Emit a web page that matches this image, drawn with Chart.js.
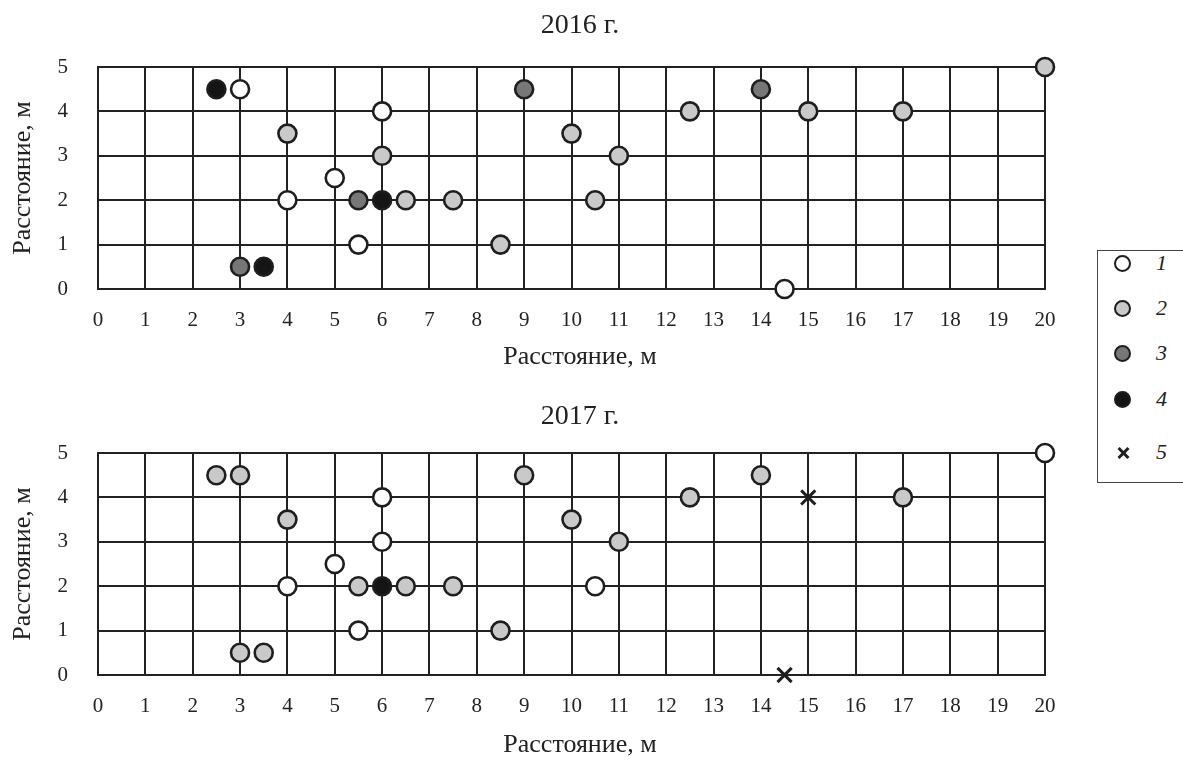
<!DOCTYPE html>
<html>
<head>
<meta charset="utf-8">
<script src="https://cdn.jsdelivr.net/npm/chart.js@4"></script>
<style>
  html, body { margin:0; padding:0; background:#fff; }
  body { width:1183px; height:764px; position:relative; overflow:hidden; font-family:"Liberation Serif", serif; }
  .wrap { position:absolute; left:0; width:1160px; }
  #legend { position:absolute; left:1097px; top:250px; width:100px; height:233px; border:1.5px solid #444; box-sizing:border-box; background:#fff; }
  .li { position:absolute; left:0; width:100%; height:20px; }
  .mk { position:absolute; left:16px; top:1px; width:17px; height:17px; border-radius:50%; box-sizing:border-box; border:2.6px solid #1e1e1e; }
  .lt { position:absolute; left:58px; top:-4px; font-style:italic; font-size:22px; color:#222; }
  .cross { position:absolute; left:17px; top:2px; width:16px; height:16px; font-size:0; }
  .cross:before, .cross:after { content:""; position:absolute; left:6.5px; top:1px; width:3px; height:14px; background:#1e1e1e; }
  .cross:before { transform:rotate(45deg); }
  .cross:after { transform:rotate(-45deg); }
</style>
</head>
<body>
<div class="wrap" style="top:0;height:375px;"><canvas id="c1"></canvas></div>
<div class="wrap" style="top:386px;height:378px;"><canvas id="c2"></canvas></div>
<div id="legend"></div>
<script>
// ---- data ----
const seriesNames = ['1', '2', '3', '4', '5'];
const xTicks = [0,1,2,3,4,5,6,7,8,9,10,11,12,13,14,15,16,17,18,19,20];
const yTicks = [0,1,2,3,4,5];

// 2016
const s2016_1 = [{x:3,y:4.5},{x:6,y:4},{x:5,y:2.5},{x:4,y:2},{x:5.5,y:1},{x:14.5,y:0}];
const s2016_2 = [{x:4,y:3.5},{x:6,y:3},{x:6.5,y:2},{x:7.5,y:2},{x:8.5,y:1},{x:10,y:3.5},{x:11,y:3},{x:10.5,y:2},{x:12.5,y:4},{x:15,y:4},{x:17,y:4},{x:20,y:5}];
const s2016_3 = [{x:9,y:4.5},{x:5.5,y:2},{x:3,y:0.5},{x:14,y:4.5}];
const s2016_4 = [{x:2.5,y:4.5},{x:6,y:2},{x:3.5,y:0.5}];
const s2016_5 = [];

// 2017
const s2017_1 = [{x:6,y:4},{x:6,y:3},{x:5,y:2.5},{x:4,y:2},{x:5.5,y:1},{x:10.5,y:2},{x:20,y:5}];
const s2017_2 = [{x:2.5,y:4.5},{x:3,y:4.5},{x:9,y:4.5},{x:4,y:3.5},{x:5.5,y:2},{x:6.5,y:2},{x:7.5,y:2},{x:8.5,y:1},{x:3,y:0.5},{x:3.5,y:0.5},{x:10,y:3.5},{x:11,y:3},{x:12.5,y:4},{x:14,y:4.5},{x:17,y:4}];
const s2017_3 = [];
const s2017_4 = [{x:6,y:2}];
const s2017_5 = [{x:15,y:4},{x:14.5,y:0}];

const titles = ['2016 г.', '2017 г.'];
const axisTitle = 'Расстояние, м';

// ---- styles ----
const fills = ['#ffffff', '#c9c9c9', '#777777', '#151515', '#1e1e1e'];
const INK = '#222222';
const FONT = '"Liberation Serif", "Times New Roman", serif';

function makeDatasets(arrs) {
  return arrs.map((d, i) => ({
    label: seriesNames[i],
    data: d,
    pointStyle: i === 4 ? 'crossRot' : 'circle',
    pointRadius: i === 4 ? 10 : 9,
    pointHoverRadius: i === 4 ? 10 : 9,
    backgroundColor: fills[i],
    borderColor: '#1e1e1e',
    pointBorderWidth: i === 4 ? 3 : 2.6,
    clip: false,
    showLine: false
  }));
}

function makeChart(id, title, arrs, cfg) {
  return new Chart(document.getElementById(id), {
    type: 'scatter',
    data: { datasets: makeDatasets(arrs) },
    options: {
      responsive: true,
      maintainAspectRatio: false,
      animation: false,
      layout: { padding: 0 },
      plugins: {
        legend: { display: false },
        tooltip: { enabled: false },
        title: {
          display: true, text: title, fullSize: true,
          color: '#222', font: { family: FONT, size: 28, weight: 'normal', lineHeight: 1.2 },
          padding: { top: cfg.tTop, bottom: 67 - cfg.tTop - 33.6 }
        },
        subtitle: {
          display: true, text: axisTitle, position: 'bottom', fullSize: true,
          color: '#222', font: { family: FONT, size: 26, weight: 'normal', lineHeight: 1.2 },
          padding: { top: 0, bottom: cfg.sBot }
        }
      },
      scales: {
        x: {
          type: 'linear', min: 0, max: 20,
          afterBuildTicks: s => { s.ticks = xTicks.map(v => ({ value: v })); },
          afterFit: s => { s.height = cfg.h - (31.2 + cfg.sBot) - 289; },
          ticks: { color: '#222', font: { family: FONT, size: 21 }, padding: 19, maxRotation: 0, autoSkip: false },
          grid: { color: INK, lineWidth: 2, drawTicks: false },
          border: { display: true, color: INK, width: 2 }
        },
        y: {
          type: 'linear', min: 0, max: 5,
          afterBuildTicks: s => { s.ticks = yTicks.map(v => ({ value: v })); },
          afterFit: s => { s.width = 98; },
          ticks: { color: '#222', font: { family: FONT, size: 21 }, padding: 30 },
          grid: { color: INK, lineWidth: 2, drawTicks: false },
          border: { display: true, color: INK, width: 2 },
          title: { display: true, text: axisTitle, color: '#222', font: { family: FONT, size: 26, lineHeight: 1.2 }, padding: { top: 7.4, bottom: 0 } }
        },
        yRight: {
          type: 'linear', position: 'right', min: 0, max: 5,
          afterFit: s => { s.width = 115; },
          ticks: { display: false },
          grid: { display: false, drawTicks: false },
          border: { display: false }
        }
      }
    }
  });
}

makeChart('c1', titles[0], [s2016_1, s2016_2, s2016_3, s2016_4, s2016_5], { tTop: 9, sBot: 2, h: 375 });
makeChart('c2', titles[1], [s2017_1, s2017_2, s2017_3, s2017_4, s2017_5], { tTop: 14, sBot: 3.4, h: 378 });

// ---- legend ----
const legendY = [13, 58, 103, 149, 202];
const leg = document.getElementById('legend');
seriesNames.forEach((n, i) => {
  const li = document.createElement('div');
  li.className = 'li';
  li.style.top = (legendY[i] - 10) + 'px';
  const mk = document.createElement('div');
  if (i === 4) { mk.className = 'cross'; }
  else { mk.className = 'mk'; mk.style.background = fills[i]; }
  const t = document.createElement('div');
  t.className = 'lt';
  t.textContent = n;
  li.appendChild(mk); li.appendChild(t);
  leg.appendChild(li);
});
</script>
</body>
</html>
